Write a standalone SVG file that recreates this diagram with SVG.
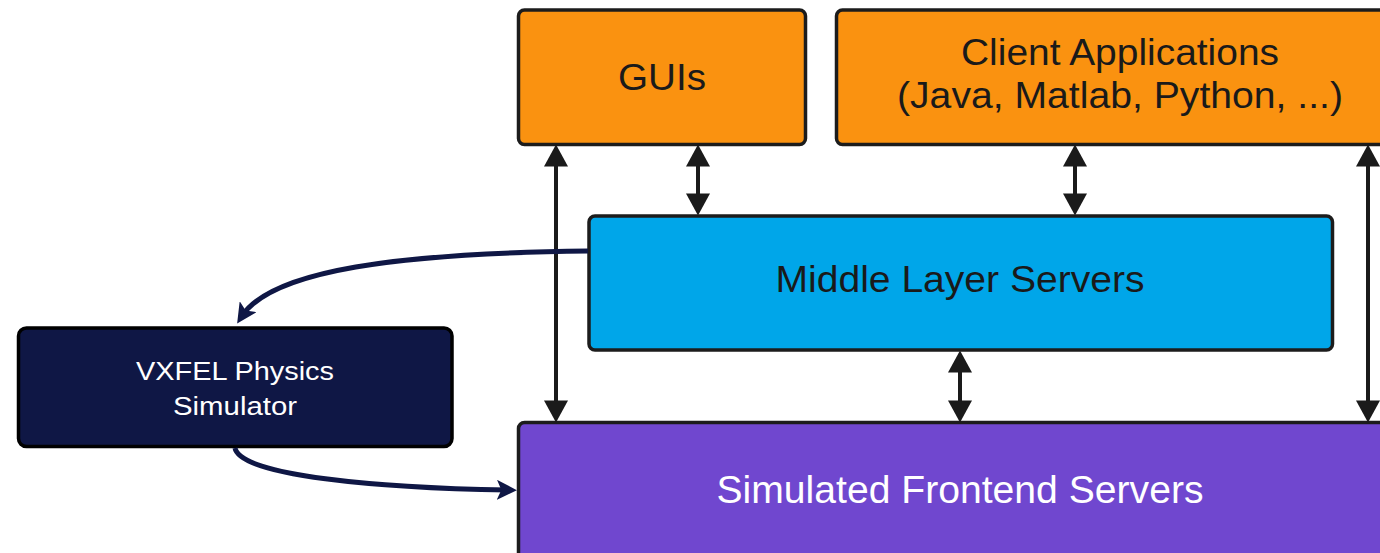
<svg xmlns="http://www.w3.org/2000/svg" width="1380" height="553" viewBox="0 0 1380 553">
  <style>
    .box { stroke: #1c1c1c; stroke-width: 3.5; }
    .orange { fill: #FA9210; }
    .blue { fill: #00A6E9; }
    .purple { fill: #7047CF; }
    .navy { fill: #0F1745; }
    .lbl { font-family: "Liberation Sans", Arial, sans-serif; text-anchor: middle; }
    .dark { fill: #1a1a1a; }
    .light { fill: #ffffff; }
    .vline { stroke: #1a1a1a; stroke-width: 4; fill: none; marker-start: url(#blk); marker-end: url(#blk); }
    .curve { stroke: #0F1745; stroke-width: 5; fill: none; marker-end: url(#nv); }
  </style>
  <defs>
    <marker id="blk" markerUnits="userSpaceOnUse" markerWidth="24" markerHeight="24" viewBox="0 0 21 23" refX="12" refY="11.5" orient="auto-start-reverse">
      <path d="M0,0 L21,11.5 L0,23 Z" fill="#1a1a1a"/>
    </marker>
    <marker id="nv" markerUnits="userSpaceOnUse" markerWidth="20" markerHeight="20" viewBox="0 0 18 18" refX="10" refY="9" orient="auto">
      <path d="M0,0 L18,9 L0,18 L4,9 Z" fill="#0F1745"/>
    </marker>
  </defs>

  <g id="gui">
    <rect class="box orange" x="518.5" y="10" width="287" height="134.5" rx="6"/>
    <text class="lbl dark" x="662" y="90" font-size="36" textLength="88" lengthAdjust="spacingAndGlyphs">GUIs</text>
  </g>

  <g id="client">
    <rect class="box orange" x="836.5" y="10" width="560" height="134.5" rx="6"/>
    <text class="lbl dark" x="1120" y="65" font-size="37" textLength="318" lengthAdjust="spacingAndGlyphs">Client Applications</text>
    <text class="lbl dark" x="1120" y="108" font-size="37" textLength="446" lengthAdjust="spacingAndGlyphs">(Java, Matlab, Python, ...)</text>
  </g>

  <g id="middle">
    <rect class="box blue" x="589" y="216" width="743.5" height="134" rx="6"/>
    <text class="lbl dark" x="960" y="292" font-size="37" textLength="369" lengthAdjust="spacingAndGlyphs">Middle Layer Servers</text>
  </g>

  <g id="frontend">
    <rect class="box purple" x="518.5" y="422.5" width="900" height="200" rx="6"/>
    <text class="lbl light" x="960" y="503" font-size="38.5" textLength="487" lengthAdjust="spacingAndGlyphs">Simulated Frontend Servers</text>
  </g>

  <g id="vxfel">
    <rect class="box navy" x="18.5" y="328" width="433.5" height="118.5" rx="8" style="stroke:#000"/>
    <text class="lbl light" x="235" y="380" font-size="25" textLength="198" lengthAdjust="spacingAndGlyphs">VXFEL Physics</text>
    <text class="lbl light" x="235" y="415" font-size="25" textLength="124" lengthAdjust="spacingAndGlyphs">Simulator</text>
  </g>

  <g id="connectors">
    <line class="vline" x1="556" y1="154" x2="556" y2="413"/>
    <line class="vline" x1="698" y1="154" x2="698" y2="206"/>
    <line class="vline" x1="1075" y1="154" x2="1075" y2="206"/>
    <line class="vline" x1="960" y1="360" x2="960" y2="413"/>
    <line class="vline" x1="1368" y1="154" x2="1368" y2="413"/>
    <path class="curve" d="M588,251 C400,253 272,270 242,316"/>
    <path class="curve" d="M235,448 C240,476 380,488 508,490"/>
  </g>
</svg>
